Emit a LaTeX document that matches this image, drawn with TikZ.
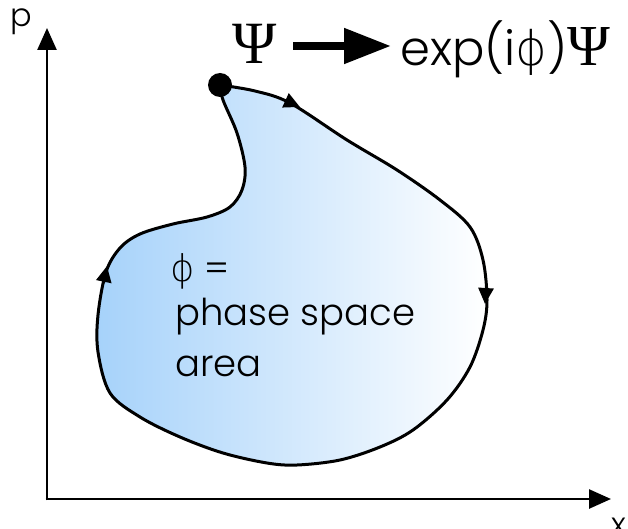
\documentclass[tikz,border=0pt]{standalone}
\usepackage{fontspec}
\setmainfont{Poppins Light}
\newfontfamily\grs{Liberation Serif}
\newfontfamily\grp{DejaVu Sans ExtraLight}
\usetikzlibrary{arrows.meta}
\definecolor{skyL}{RGB}{166,210,250}
\tikzset{
  axis/.style={line width=2.6pt,-{Triangle[length=22pt,width=19pt]}},
  loopline/.style={line width=3pt},
  looptip/.style={line width=3pt,-{Triangle[length=16pt,width=15pt]}},
  lbl/.style={inner sep=0pt,anchor=base west},
}
\begin{document}
\begin{tikzpicture}[x=1pt,y=-1pt]
\useasboundingbox (0,0) rectangle (628,529);
% axes
\coordinate (O) at (47,499);
\coordinate (ytip) at (47,28);
\coordinate (xtip) at (611,499);
\draw[axis] (47,500.3) -- (ytip);
\draw[axis] (45.7,499) -- (xtip);
\node[lbl,font=\fontsize{32}{32}\selectfont] (plab) at (10,27) {p};
\node[lbl,font=\fontsize{32}{32}\selectfont] (xlab) at (611,535) {x};
% blob
\shadedraw[left color=skyL,right color=white,draw=black,loopline]
  plot[smooth,tension=0.55] coordinates {
  (220,85) (255,91) (290,103) (347,140) (397,170) (440,200) (470,227) (483,260)
  (487,300) (483,330) (470,367) (447,400) (413,430) (380,447) (340,460) (297,465)
  (267,463) (223,453) (180,437) (140,417) (110,393) (98,352) (98,315) (106,272)
  (120,248) (140,234) (173,224) (207,217) (230,207) (242,190) (245,167) (237,133)
  (223,100) (220,85)} -- cycle;
\draw[looptip] (288,101.5) -- (300,107);
\draw[looptip] (486,288) -- (485,304);
\draw[looptip] (103.5,283) -- (107,266);
\fill (220,85) circle[radius=12];
% text in blob
\node[lbl,font=\fontsize{37}{37}\selectfont] (phi) at (170,281) {{\grp ϕ} =};
\node[lbl,font=\fontsize{37}{37}\selectfont] (l2) at (175,325) {phase space};
\node[lbl,font=\fontsize{37}{37}\selectfont] (l3) at (175,376) {area};
% title
\node[lbl,font=\fontsize{60}{60}\selectfont\grs] (psi1) at (232,64) {Ψ};
\coordinate (ta) at (293,46);
\coordinate (tb) at (391,46);
\draw[line width=8pt,-{Triangle[length=47pt,width=34pt]}] (ta) -- (tb);
\node[lbl,font=\fontsize{48}{48}\selectfont] (expr) at (400,66) {exp(i{\grp ϕ}){\grs\fontsize{58}{58}\selectfont Ψ}};
\end{tikzpicture}
\end{document}
